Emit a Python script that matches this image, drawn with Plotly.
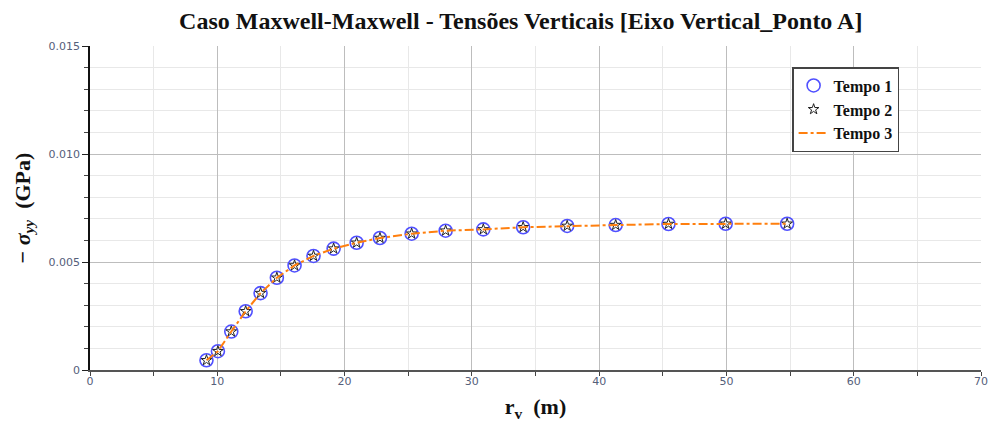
import plotly.graph_objects as go

# Vertical stress along the vertical axis (point A) at three times
r_v = [9.15, 10.05, 11.1, 12.23, 13.4, 14.68, 16.07, 17.56, 19.14, 20.95,
       22.78, 25.27, 27.94, 30.9, 34.03, 37.49, 41.3, 45.45, 49.94, 54.77]
tempo1 = [0.00045, 0.00087, 0.00178, 0.00272, 0.00356, 0.00427, 0.00484, 0.00528,
          0.00562, 0.00589, 0.00611, 0.00631, 0.00645, 0.00651, 0.00661, 0.00667,
          0.00671, 0.00676, 0.00677, 0.00677]
tempo2 = list(tempo1)
tempo3 = list(tempo1)

x_ticks = [0, 10, 20, 30, 40, 50, 60, 70]
y_ticks = [0, 0.005, 0.010, 0.015]
y_tick_text = ["0", "0.005", "0.010", "0.015"]

serif = "Liberation Serif, Times New Roman, serif"
tick_font = dict(family="DejaVu Sans, Verdana, sans-serif", size=11, color="#55607a")

fig = go.Figure()
fig.add_trace(go.Scatter(
    x=r_v, y=tempo1, name="<b>Tempo 1</b>", mode="markers",
    marker=dict(symbol="circle-open", size=13, color="#5050ff", line=dict(width=1.6)),
))
fig.add_trace(go.Scatter(
    x=r_v, y=tempo2, name="<b>Tempo 2</b>", mode="markers",
    marker=dict(symbol="star-open", size=8, color="#222222", line=dict(width=1)),
))
fig.add_trace(go.Scatter(
    x=r_v, y=tempo3, name="<b>Tempo 3</b>", mode="lines",
    line=dict(color="#ff7f0e", width=2, dash="dashdot"),
))

fig.update_layout(
    width=990, height=423,
    margin=dict(l=90, r=9, t=46, b=53, autoexpand=False),
    paper_bgcolor="white", plot_bgcolor="white",
    title=dict(
        text="<b>Caso Maxwell-Maxwell - Tensões Verticais [Eixo Vertical_Ponto A]</b>",
        font=dict(family=serif, size=24, color="#111111"),
        x=0.526, xanchor="center", y=0.972, yanchor="top",
    ),
    showlegend=True,
    legend=dict(
        x=0.788, y=0.935, xanchor="left", yanchor="top",
        bgcolor="white", bordercolor="#444444", borderwidth=1.5,
        font=dict(family=serif, size=16, color="#111111"),
        tracegroupgap=0, itemwidth=30,
    ),
    xaxis=dict(
        range=[0, 70], tickvals=x_ticks, ticks="",
        tickfont=tick_font, automargin=False,
        showgrid=True, gridcolor="#bdbdbd", gridwidth=1,
        showline=True, linecolor="#555555", linewidth=1.5,
        zeroline=False,
        minor=dict(dtick=5, showgrid=True, gridcolor="#e8e8e8", ticks="outside",
                   ticklen=4, tickcolor="#444444"),
        title=dict(text="<b>r<sub>v</sub>  (m)</b>",
                   font=dict(family=serif, size=22, color="#111111"), standoff=12),
    ),
    yaxis=dict(
        range=[0, 0.015], tickvals=y_ticks, ticktext=y_tick_text,
        ticks="outside", ticklen=6, tickcolor="#222222",
        tickfont=tick_font, automargin=False,
        showgrid=True, gridcolor="#bdbdbd", gridwidth=1,
        showline=True, linecolor="#111111", linewidth=1.5,
        zeroline=False,
        minor=dict(dtick=0.001, showgrid=True, gridcolor="#e8e8e8", ticks="outside",
                   ticklen=4, tickcolor="#444444"),
        title=dict(text="<b>− <i>σ</i><sub><i>yy</i></sub>  (GPa)</b>",
                   font=dict(family=serif, size=22, color="#111111"), standoff=12),
    ),
)

fig.write_html("out.html")
